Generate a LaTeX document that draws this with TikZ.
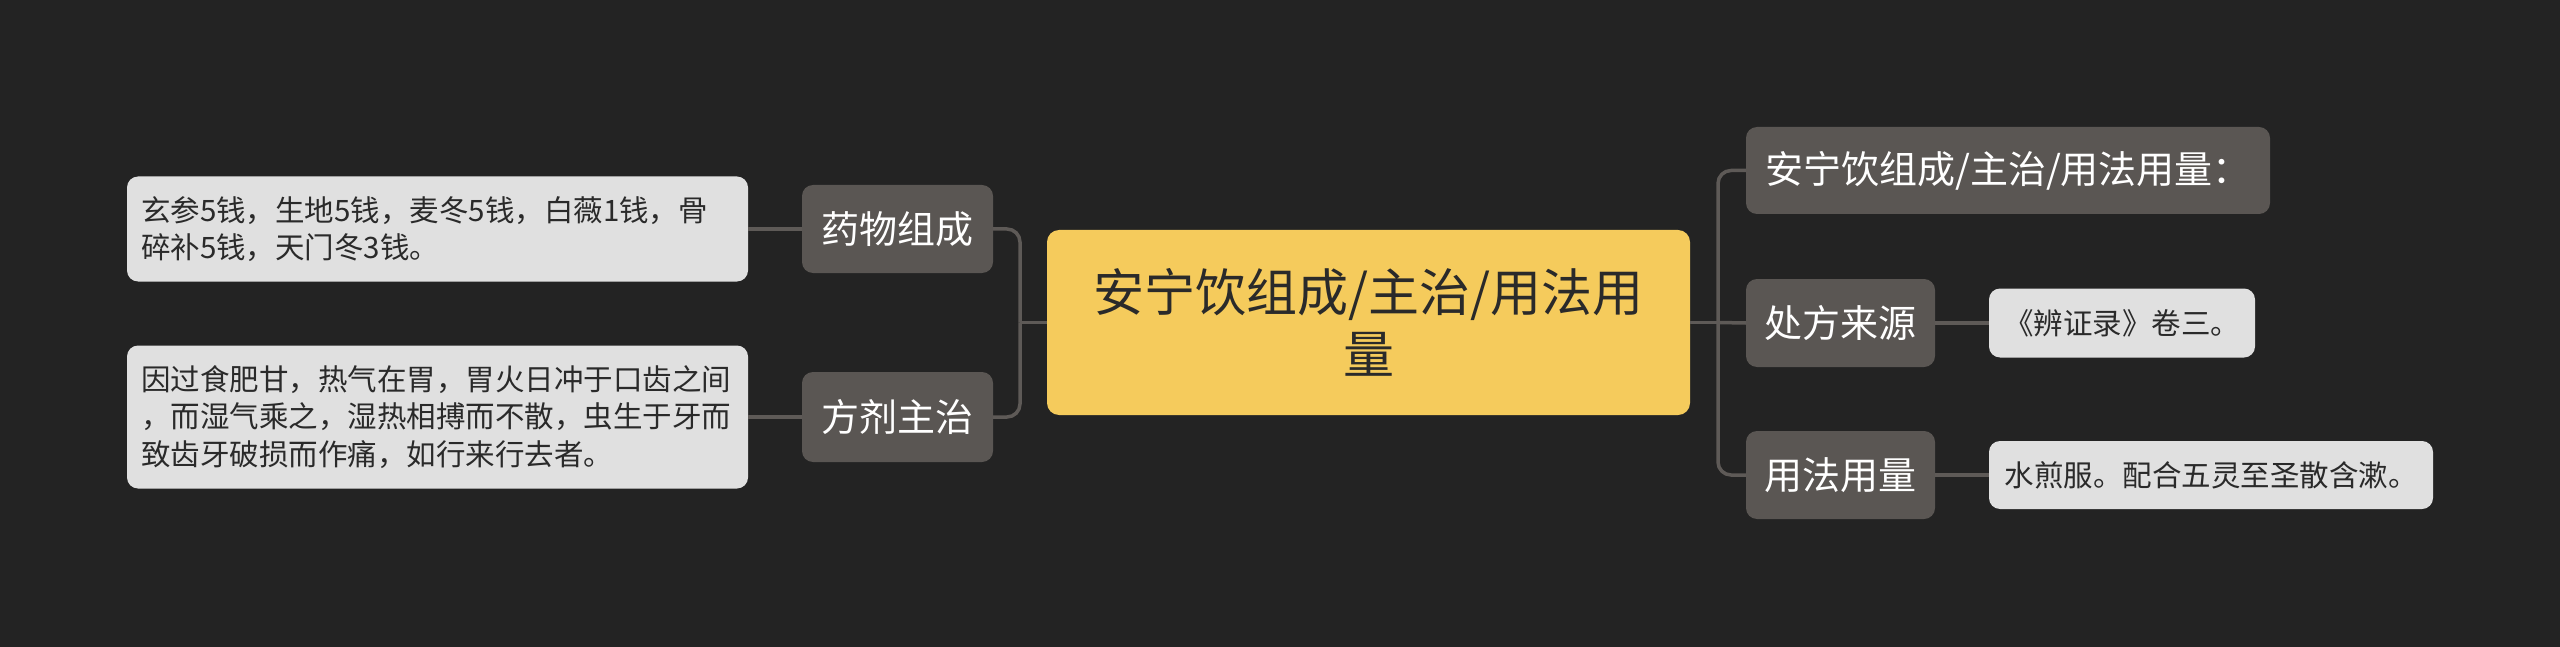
\documentclass[tikz,border=0pt]{standalone}
\usepackage{fontspec}
\newfontfamily\cjk{Noto Sans CJK SC}
\definecolor{bgc}{HTML}{232323}
\definecolor{linec}{HTML}{5E5A57}
\definecolor{branchc}{HTML}{5A5653}
\definecolor{leafc}{HTML}{E0E0E0}
\definecolor{rootc}{HTML}{F5CB5C}
\definecolor{darktext}{HTML}{2A2A2A}
\tikzset{
  rootbox/.style={fill=rootc, rounded corners=12pt, inner sep=0pt, align=center,
    text=darktext, font=\cjk\fontsize{51}{62}\selectfont},
  branchbox/.style={fill=branchc, rounded corners=11pt, inner sep=0pt, align=center,
    text=white, font=\cjk\fontsize{38}{46}\selectfont},
  leafbox/.style={fill=leafc, rounded corners=11pt, inner sep=0pt, align=left,
    text=darktext, font=\cjk\fontsize{29.5}{37.6}\selectfont},
  conn/.style={draw=linec, line width=3.5pt, rounded corners=13pt},
}
\begin{document}
\begin{tikzpicture}[x=1pt,y=-1pt]
\fill[bgc] (0,0) rectangle (2560,647);
\useasboundingbox (0,0) rectangle (2560,647);

% root
\node[rootbox, minimum width=643pt, minimum height=185pt] (root) at (1368.5,322.5)
  {安宁饮组成/主治/用法用\\量};

% left branches
\node[branchbox, minimum width=191pt, minimum height=88pt] (yaowu) at (897.5,229) {药物组成};
\node[branchbox, minimum width=191pt, minimum height=90pt] (fangji) at (897.5,417) {方剂主治};

% left leaves
\node[leafbox, minimum width=621pt, minimum height=105pt, text width=593pt] (leafa) at (437.5,229)
  {玄参5钱，生地5钱，麦冬5钱，白薇1钱，骨\\碎补5钱，天门冬3钱。};
\node[leafbox, minimum width=621pt, minimum height=143pt, text width=593pt] (leafb) at (437.5,417)
  {因过食肥甘，热气在胃，胃火日冲于口齿之间\\，而湿气乘之，湿热相搏而不散，虫生于牙而\\致齿牙破损而作痛，如行来行去者。};

% right branches
\node[branchbox, minimum width=524pt, minimum height=87pt] (title) at (2008,170.5) {安宁饮组成/主治/用法用量：};
\node[branchbox, minimum width=189pt, minimum height=88pt] (chufang) at (1840.5,323) {处方来源};
\node[branchbox, minimum width=189pt, minimum height=88pt] (yongfa) at (1840.5,475) {用法用量};

% right leaves
\node[leafbox, minimum width=266pt, minimum height=69pt, align=center] (leafc) at (2122,323) {《辨证录》卷三。};
\node[leafbox, minimum width=444pt, minimum height=68pt, align=center] (leafd) at (2211,475) {水煎服。配合五灵至圣散含漱。};

% junctions
\coordinate (lj) at (1020,322.5);
\coordinate (rj) at (1718,322.5);

% connectors
\draw[conn] (root.west) -- (lj);
\draw[conn] (yaowu.east) -| (lj);
\draw[conn] (fangji.east) -| (lj);
\draw[conn] (root.east) -- (rj);
\draw[conn] (rj) |- (title.west);
\draw[conn] (rj) -- (chufang.west);
\draw[conn] (rj) |- (yongfa.west);
\draw[conn] (leafa.east) -- (yaowu.west);
\draw[conn] (leafb.east) -- (fangji.west);
\draw[conn] (chufang.east) -- (leafc.west);
\draw[conn] (yongfa.east) -- (leafd.west);
\end{tikzpicture}
\end{document}
